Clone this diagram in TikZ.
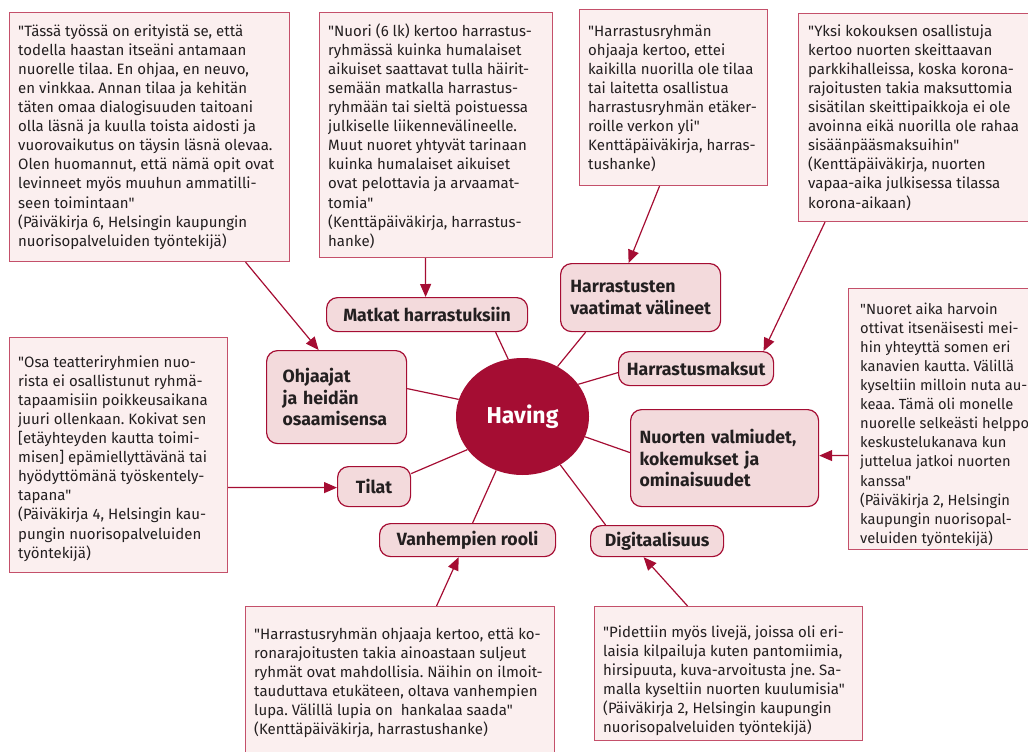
\documentclass[tikz,border=0pt]{standalone}
\usepackage{fontspec}
\setmainfont{Fira Sans}[Ligatures=TeXOff]
\usetikzlibrary{shapes.geometric,arrows.meta}
\definecolor{crim}{HTML}{A50D33}
\definecolor{qfill}{HTML}{FBEFEF}
\definecolor{qdraw}{HTML}{C4506A}
\definecolor{nfill}{HTML}{F3DADC}
\definecolor{txt}{HTML}{231F20}
\frenchspacing
\begin{document}
\begin{tikzpicture}[x=1pt,y=-1pt,
 qbox/.style={draw=qdraw, line width=1.1pt, fill=qfill, anchor=north west, inner sep=0pt},
 qtext/.style={anchor=north west, align=left, inner sep=0pt, font=\fontsize{15}{19.1}\selectfont, text=txt},
 topic/.style={draw=crim, line width=1.2pt, fill=nfill, rounded corners=11pt, font=\bfseries\fontsize{17.7}{21.5}\selectfont, anchor=north west, inner sep=0pt, text=txt},
 link/.style={draw=crim, line width=1.2pt},
 arr/.style={link, -{Triangle[length=13pt,width=11pt]}}
]
\useasboundingbox (0,0) rectangle (1028,752);
\clip (0,0) rectangle (1028,752);

% quote boxes
\node[qbox, minimum width=280pt, minimum height=249pt] (q1) at (9,12) {};
\node[qtext] (q1t) at (18,22.6) {\strut"Tässä työssä on erityistä se, että\\todella haastan itseäni antamaan\\nuorelle tilaa. En ohjaa, en neuvo,\\en vinkkaa. Annan tilaa ja kehitän\\täten omaa dialogisuuden taitoani\\olla läsnä ja kuulla toista aidosti ja\\vuorovaikutus on täysin läsnä olevaa.\\Olen huomannut, että nämä opit ovat\\levinneet myös muuhun ammatilli-\\seen toimintaan"\\(Päiväkirja 6, Helsingin kaupungin\\nuorisopalveluiden työntekijä)};
\node[qbox, minimum width=233pt, minimum height=245pt] (q2) at (319,12) {};
\node[qtext] (q2t) at (328,22.6) {\strut"Nuori (6 lk) kertoo harrastus-\\ryhmässä kuinka humalaiset\\aikuiset saattavat tulla häirit-\\semään matkalla harrastus-\\ryhmään tai sieltä poistuessa\\julkiselle liikennevälineelle.\\Muut nuoret yhtyvät tarinaan\\kuinka humalaiset aikuiset\\ovat pelottavia ja arvaamat-\\tomia"\\(Kenttäpäiväkirja, harrastus-\\hanke)};
\node[qbox, minimum width=188pt, minimum height=176pt] (q3) at (579,9) {};
\node[qtext] (q3t) at (588,22.6) {\strut"Harrastusryhmän\\ohjaaja kertoo, ettei\\kaikilla nuorilla ole tilaa\\tai laitetta osallistua\\harrastusryhmän etäker-\\roille verkon yli"\\Kenttäpäiväkirja, harras-\\tushanke)};
\node[qbox, minimum width=260pt, minimum height=208pt] (q4) at (798,13) {};
\node[qtext] (q4t) at (808,22.6) {\strut"Yksi kokouksen osallistuja\\kertoo nuorten skeittaavan\\parkkihalleissa, koska korona-\\rajoitusten takia maksuttomia\\sisätilan skeittipaikkoja ei ole\\avoinna eikä nuorilla ole rahaa\\sisäänpääsmaksuihin"\\(Kenttäpäiväkirja, nuorten\\vapaa-aika julkisessa tilassa\\korona-aikaan)};
\node[qbox, minimum width=220pt, minimum height=261pt] (q5) at (848,288) {};
\node[qtext, font=\fontsize{14.7}{19.1}\selectfont] (q5t) at (860,300.6) {\strut"Nuoret aika harvoin\\ottivat itsenäisesti mei-\\hin yhteyttä somen eri\\kanavien kautta. Välillä\\kyseltiin milloin nuta au-\\keaa. Tämä oli monelle\\nuorelle selkeästi helppo\\keskustelukanava kun\\juttelua jatkoi nuorten\\kanssa"\\(Päiväkirja 2, Helsingin\\kaupungin nuorisopal-\\veluiden työntekijä)};
\node[qbox, minimum width=218pt, minimum height=235pt] (q6) at (9,337) {};
\node[qtext] (q6t) at (18,353.6) {\strut"Osa teatteriryhmien nuo-\\rista ei osallistunut ryhmä-\\tapaamisiin poikkeusaikana\\juuri ollenkaan. Kokivat sen\\\relax{[}etäyhteyden kautta toimi-\\misen{]} epämiellyttävänä tai\\hyödyttömänä työskentely-\\tapana"\\(Päiväkirja 4, Helsingin kau-\\pungin nuorisopalveluiden\\työntekijä)};
\node[qbox, minimum width=309pt, minimum height=160pt] (q7) at (245,606) {};
\node[qtext] (q7t) at (254,625.6) {\strut"Harrastusryhmän ohjaaja kertoo, että ko-\\ronarajoitusten takia ainoastaan suljeut\\ryhmät ovat mahdollisia. Näihin on ilmoit-\\tauduttava etukäteen, oltava vanhempien\\lupa. Välillä lupia on\ \ hankalaa saada"\\(Kenttäpäiväkirja, harrastushanke)};
\node[qbox, minimum width=268pt, minimum height=134pt] (q8) at (594,606) {};
\node[qtext] (q8t) at (603,623.6) {\strut"Pidettiin myös livejä, joissa oli eri-\\laisia kilpailuja kuten pantomiimia,\\hirsipuuta, kuva-arvoitusta jne. Sa-\\malla kyseltiin nuorten kuulumisia"\\(Päiväkirja 2, Helsingin kaupungin\\nuorisopalveluiden työntekijä)};

% centre
\node[ellipse, fill=crim, minimum width=133pt, minimum height=117pt, text=white, font=\bfseries\fontsize{23}{26}\selectfont] (having) at (522.5,416.5) {Having};

% topics
\node[topic, minimum width=201pt, minimum height=34pt] (matkat) at (326,297) {Matkat harrastuksiin};
\node[topic, align=left, minimum width=160pt, minimum height=68pt] (harr) at (560,263) {Harrastusten\\vaatimat välineet};
\node[topic, minimum width=155pt, minimum height=34pt] (maksut) at (618,351) {Harrastusmaksut};
\node[topic, align=left, text width=108pt, inner xsep=16pt, minimum height=93pt] (ohj) at (266,350) {Ohjaajat\\ja heidän\\osaamisensa};
\node[topic, align=left, text width=170pt, inner xsep=9pt, minimum height=97pt] (nuorten) at (630,409) {Nuorten valmiudet,\\kokemukset ja\\ominaisuudet};
\node[topic, minimum width=73pt, minimum height=40pt] (tilat) at (337,466) {Tilat};
\node[topic, minimum width=176pt, minimum height=33pt] (vanh) at (379,523) {Vanhempien rooli};
\node[topic, minimum width=133pt, minimum height=31pt] (digi) at (590,525) {Digitaalisuus};

% spokes
\draw[link] (having.104) -- ([xshift=68.5pt]matkat.south);
\draw[link] (having.55) -- ([xshift=-55pt]harr.south);
\draw[link] (having.30) -- ([yshift=-4pt]maksut.west);
\draw[link] (having.165) -- ([yshift=8.5pt]ohj.east);
\draw[link] (having.-18) -- ([yshift=5.5pt]nuorten.west);
\draw[link] (having.211) -- ([yshift=13pt]tilat.east);
\draw[link] (having.244) -- ([xshift=5pt]vanh.north);
\draw[link] (having.-52) -- ([xshift=-51.5pt]digi.north);

% quote arrows
\draw[arr] ([xshift=96pt]q1.south) -- ([xshift=-18pt]ohj.north);
\draw[arr] ([xshift=-10.5pt]q2.south) -- ([xshift=-1.5pt]matkat.north);
\draw[arr] ([xshift=-14pt]q3.south) -- ([xshift=-12pt]harr.north);
\draw[arr] ([xshift=27pt]q4.south west) -- ([xshift=67.5pt]maksut.north);
\draw[arr] ([yshift=-36.5pt]q5.west) -- ([yshift=2.5pt]nuorten.east);
\draw[arr] ([yshift=-32.5pt]q6.east) -- ([yshift=-1pt]tilat.west);
\draw[arr] ([xshift=36.5pt]q7.north) -- ([xshift=-9pt]vanh.south);
\draw[arr] ([xshift=-41pt]q8.north) -- ([xshift=-13.5pt]digi.south);
\end{tikzpicture}
\end{document}
